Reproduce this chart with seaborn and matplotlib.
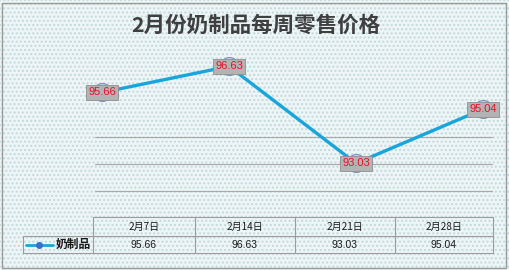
import matplotlib
matplotlib.use("Agg")
import matplotlib.pyplot as plt
import seaborn as sns
import pandas as pd
from matplotlib.patches import Rectangle

categories = ["2月7日", "2月14日", "2月21日", "2月28日"]
values = [95.66, 96.63, 93.03, 95.04]
series_name = "奶制品"
title = "2月份奶制品每周零售价格"
grid_ticks = [92, 93, 94]

sns.set_theme(style="white")
plt.rcParams['font.family'] = ['Noto Sans CJK SC', 'DejaVu Sans']

W, H = 509, 270
fig = plt.figure(figsize=(W / 100, H / 100), dpi=100)
fig.patch.set_facecolor("#eaf3f4")

# background layer in pixel coordinates
bg = fig.add_axes([0, 0, 1, 1], zorder=0)
bg.set_xlim(0, W)
bg.set_ylim(H, 0)
bg.axis("off")
bg.add_patch(Rectangle((0, 0), W, H, facecolor="#edf5f6", edgecolor="#c3d9dc",
                       hatch="....", linewidth=0))
bg.add_patch(Rectangle((2.5, 2.5), W - 5, H - 5, facecolor="none",
                       edgecolor="#9a9a9a", linewidth=1.0))

# main chart axes
x0, x1 = 95, 493
ytop, ybot = 51, 218
ax = fig.add_axes([x0 / W, (H - ybot) / H, (x1 - x0) / W, (ybot - ytop) / H], zorder=2)
ax.patch.set_alpha(0)
df = pd.DataFrame({"pos": range(len(categories)), "value": values})
sns.lineplot(data=df, x="pos", y="value", ax=ax, color="#18a5dc", linewidth=2.4,
             marker="o", markersize=13, markerfacecolor="#c4d0e6",
             markeredgecolor="#7b95c4", markeredgewidth=0.8)
ax.set_xlim(-7 / 127, 3 + 10 / 127)
ax.set_ylim(91, 97.2)
ax.set_yticks(grid_ticks)
ax.yaxis.grid(True, color="#a9a9a9", linewidth=0.8)
ax.set_xticks([])
ax.tick_params(left=False, labelleft=False)
ax.set_xlabel("")
ax.set_ylabel("")
for s in ax.spines.values():
    s.set_visible(False)

for i, v in enumerate(values):
    ax.text(i, v, f"{v:.2f}", ha="center", va="center", color="#e8102a",
            fontsize=8, family=["Liberation Sans", "DejaVu Sans"],
            bbox=dict(boxstyle="square,pad=0.22", facecolor="#b3b3b3",
                      edgecolor="#8f8f8f", linewidth=0.6), zorder=5)

# title
bg.text(W / 2 + 1, 25, title, ha="center", va="center", fontsize=15.5,
        fontweight="bold", color="#3f3f3f")

# data table
col_edges = [93, 195, 295, 395, 493]
r0, r1, r2 = 217, 236, 253
lc = "#9c9c9c"
bg.plot([col_edges[0], col_edges[-1]], [r0, r0], color=lc, lw=0.8)
bg.plot([23, col_edges[-1]], [r1, r1], color=lc, lw=0.8)
bg.plot([23, col_edges[-1]], [r2, r2], color=lc, lw=0.8)
bg.plot([23, 23], [r1, r2], color=lc, lw=0.8)
for xe in col_edges:
    bg.plot([xe, xe], [r0, r2], color=lc, lw=0.8)
for i, (c, v) in enumerate(zip(categories, values)):
    xc = (col_edges[i] + col_edges[i + 1]) / 2
    bg.text(xc, (r0 + r1) / 2, c, ha="center", va="center", fontsize=7.2,
            color="#1a1a1a")
    bg.text(xc, (r1 + r2) / 2, f"{v:.2f}", ha="center", va="center",
            fontsize=7.5, color="#1a1a1a", family=["Liberation Sans", "DejaVu Sans"])
# legend key
bg.plot([26, 53], [(r1 + r2) / 2, (r1 + r2) / 2], color="#18a5dc", lw=2)
bg.plot([39.5], [(r1 + r2) / 2], marker="o", markersize=4, color="#3b6fc0")
bg.text(56, (r1 + r2) / 2, series_name, ha="left", va="center", fontsize=8.5,
        fontweight="bold", color="#1a1a1a")

fig.savefig("out.png", dpi=100)
